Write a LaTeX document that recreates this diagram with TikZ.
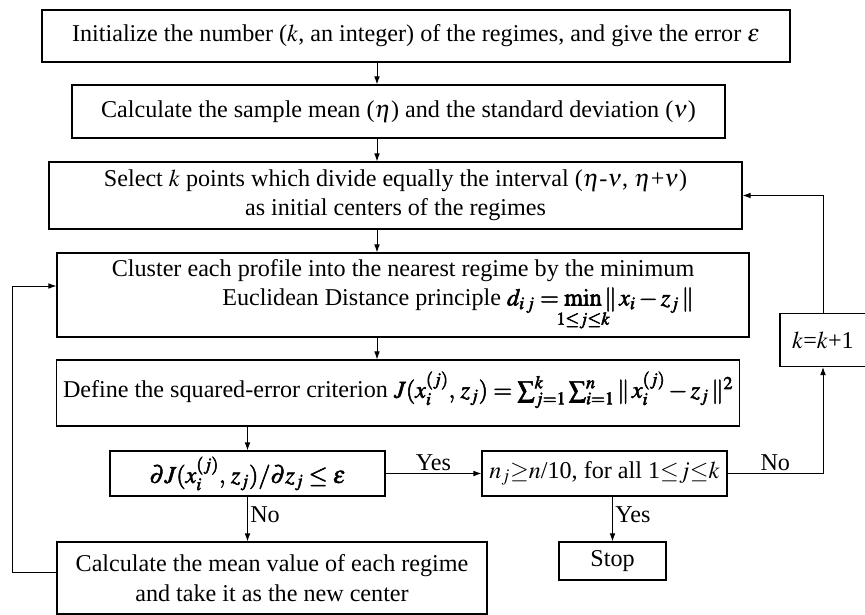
\documentclass[tikz,border=0pt]{standalone}
\usepackage{amsmath}
\usepackage{amssymb}
\usepackage{mathtools}
\usepackage{mathptmx}
\usepackage{fontspec}
\setmainfont{Liberation Serif}
\usepackage{tikz}
\usetikzlibrary{arrows.meta, positioning, calc}

% heavier strokes for the formulas
\newcommand{\heavy}[1]{\special{pdf:literal direct q 2 Tr 0.45 w}#1\special{pdf:literal direct Q}}

\begin{document}
\begin{tikzpicture}[
  x=0.03cm, y=-0.03cm,
  stage/.style={rectangle, draw, line width=0.9pt, align=center, inner sep=2pt, font=\fontsize{20.6}{25}\selectfont},
  arrow/.style={-{Latex[length=2.4mm, width=1.7mm]}, line width=0.8pt},
  lab/.style={font=\fontsize{20.6}{24}\selectfont, inner sep=2pt}
]
\useasboundingbox (0,0) rectangle (865,615);

\node[stage, minimum width=22.44cm, minimum height=1.56cm] (init) at (416,36)
  {Initialize the number ($k$, an integer) of the regimes, and give the error $\varepsilon$};
\node[stage, minimum width=19.59cm, minimum height=1.59cm] (stats) at (398.5,111.5)
  {Calculate the sample mean ($\eta$) and the standard deviation ($\nu$)};
\node[stage, minimum width=20.79cm, minimum height=2.01cm] (select) at (395.5,195.5)
  {Select $k$ points which divide equally the interval ($\eta$-$\nu$, $\eta$+$\nu$)\\ as initial centers of the regimes};
\node[stage, minimum width=20.76cm, minimum height=2.52cm] (cluster) at (403,295)
  {Cluster each profile into the nearest regime by the minimum\\
   \hspace*{3.3cm}Euclidean Distance principle \heavy{$d_{i\,j}=\mathop{\mathrm{min}}\limits_{\mathclap{\lower4pt\hbox{$\scriptstyle 1\le j\le k$}}}\|\,x_i-z_j\,\|$}};
\node[stage, minimum width=20.49cm, minimum height=1.98cm, text depth=0.5cm] (crit) at (398,393)
  {Define the squared-error criterion \heavy{$J(x_i^{(j)},\,z_j)=\sum_{j=1}^{k}\sum_{i=1}^{n}\|\,x_i^{(j)}-z_j\,\|^2$}};
\node[stage, minimum width=8.25cm, minimum height=1.35cm] (conv) at (247.5,473.5)
  {\heavy{$\partial J(x_i^{(j)},\,z_j)/\partial z_j\le\varepsilon$}};
\node[stage, minimum width=7.35cm, minimum height=1.35cm] (size) at (604.5,473.5)
  {$n_j$$\geq$$n$/10, for all 1$\leq$$j$$\leq$$k$};
\node[stage, minimum width=12.9cm, minimum height=2.16cm] (update) at (272,578)
  {Calculate the mean value of each regime\\ and take it as the new center};
\node[stage, minimum width=3.21cm, minimum height=1.14cm] (stop) at (612.5,561) {Stop};
\node[stage, minimum width=2.58cm, minimum height=1.59cm] (incr) at (823,340) {$k$=$k$+1};

\coordinate (axis) at (377,0);
\coordinate (back) at (12,572);
\coordinate (backin) at (12,286);

\draw[arrow] (init.south -| axis) -- (stats.north -| axis);
\draw[arrow] (stats.south -| axis) -- (select.north -| axis);
\draw[arrow] (select.south -| axis) -- (cluster.north -| axis);
\draw[arrow] (cluster.south -| axis) -- (crit.north -| axis);
\draw[arrow] (crit.south -| conv) -- (conv.north);
\draw[arrow] (conv.east) -- node[lab, above] {Yes} (size.west);
\draw[arrow] (conv.south) -- node[lab, right, pos=0.4] {No} (update.north -| conv);
\draw[arrow] (size.south -| stop) -- node[lab, right, pos=0.4] {Yes} (stop.north);
\draw[arrow] (size.east) -- node[lab, above] {No} (size.east -| incr) -- (incr.south);
\draw[arrow] (incr.north) |- (select.east);
\draw[arrow] (update.west |- back) -- (back) -- (backin) -- (cluster.west |- backin);
\end{tikzpicture}
\end{document}
